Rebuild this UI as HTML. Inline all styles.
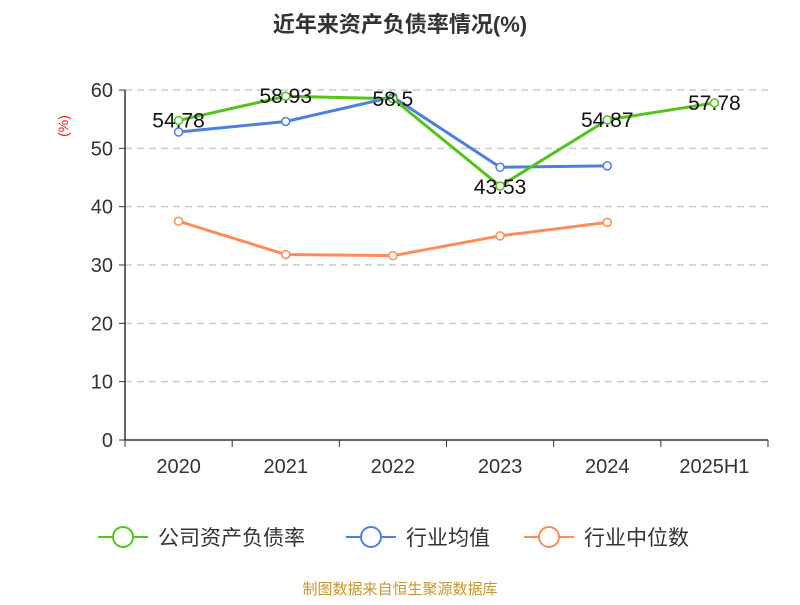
<!DOCTYPE html>
<html><head><meta charset="utf-8"><style>
body{margin:0;background:#fff;}
svg text{font-family:"Liberation Sans","Noto Sans CJK SC",sans-serif;}
</style></head><body>
<svg id="chart" width="800" height="600" xmlns="http://www.w3.org/2000/svg">
<text x="400" y="32" text-anchor="middle" font-size="22" font-weight="bold" fill="#333">近年来资产负债率情况(%)</text>
<text x="68" y="126" text-anchor="middle" font-size="14" fill="#e02020" transform="rotate(-90 68 126)">(%)</text>
<g id="grid"></g><g id="axes"></g><g id="series"></g>
<g>
<g><line x1="98" y1="537" x2="148" y2="537" stroke="#52c41a" stroke-width="2"/><circle cx="123" cy="537" r="10" fill="#fff" stroke="#52c41a" stroke-width="2"/><text x="158" y="545" font-size="21" fill="#333">公司资产负债率</text></g>
<g><line x1="346" y1="537" x2="396" y2="537" stroke="#4e7fe0" stroke-width="2"/><circle cx="371" cy="537" r="10" fill="#fff" stroke="#4e7fe0" stroke-width="2"/><text x="406" y="545" font-size="21" fill="#333">行业均值</text></g>
<g><line x1="524" y1="537" x2="574" y2="537" stroke="#ff8c55" stroke-width="2"/><circle cx="549" cy="537" r="10" fill="#fff" stroke="#ff8c55" stroke-width="2"/><text x="584" y="545" font-size="21" fill="#333">行业中位数</text></g>
</g>
<text x="400" y="594" text-anchor="middle" font-size="15" fill="#c8962e">制图数据来自恒生聚源数据库</text>
</svg>
<script>
const categories=["2020","2021","2022","2023","2024","2025H1"];
const companyValues=[54.78,58.93,58.5,43.53,54.87,57.78];
const avgValues=[52.8,54.6,58.8,46.75,47.0,null];
const medianValues=[37.5,31.8,31.6,35.0,37.3,null];
const yTicks=[0,10,20,30,40,50,60];
const NS="http://www.w3.org/2000/svg";
const x0=125,x1=768,yb=440,yt=90,yMax=60;
const bw=(x1-x0)/categories.length;
const xs=i=>x0+bw*(i+0.5);
const ys=v=>yb-(v/yMax)*(yb-yt);
function mk(tag,attrs,parent,txt){const e=document.createElementNS(NS,tag);for(const k in attrs)e.setAttribute(k,attrs[k]);if(txt!==undefined)e.textContent=txt;parent.appendChild(e);return e;}
const grid=document.getElementById('grid'),axes=document.getElementById('axes'),ser=document.getElementById('series');
yTicks.forEach(t=>{
 if(t>0){const g=mk('line',{x1:x0,x2:x1,y1:ys(t),y2:ys(t),stroke:'#ccc','stroke-width':1.5,'stroke-dasharray':'7,5'},grid);
 
 }
 const tk=mk('line',{x1:x0-6,x2:x0,y1:ys(t),y2:ys(t),stroke:'#333'},axes);
 
 
 const l=mk('text',{x:x0-12,y:ys(t)+7,'text-anchor':'end','font-size':20,fill:'#333'},axes,String(t));
 
 
});
const ya=mk('line',{x1:x0,x2:x0,y1:yt,y2:yb,stroke:'#333','stroke-width':1.5},axes);


const xa=mk('line',{x1:x0,x2:x1,y1:yb,y2:yb,stroke:'#333','stroke-width':1.5},axes);


for(let i=0;i<=categories.length;i++){const t=mk('line',{x1:x0+bw*i,x2:x0+bw*i,y1:yb,y2:yb+7,stroke:'#333'},axes);
 
 }
categories.forEach((c,i)=>{const l=mk('text',{x:xs(i),y:yb+33,'text-anchor':'middle','font-size':20,fill:'#333'},axes,c);
 
 });
function drawSeries(vals,color,name,labels){
 const pts=[];vals.forEach((v,i)=>{if(v!==null)pts.push([xs(i),ys(v),v]);});
 const p=mk('polyline',{points:pts.map(p=>p[0]+','+p[1]).join(' '),fill:'none',stroke:color,'stroke-width':3},ser);
 
 
 pts.forEach(q=>{const c=mk('circle',{cx:q[0],cy:q[1],r:4,fill:'#fff',stroke:color,'stroke-width':1.5},ser);
  
  });
 if(labels)pts.forEach(q=>{const t=mk('text',{x:q[0],y:q[1]+(q[2]<50?8:7),'text-anchor':'middle','font-size':21,fill:'#111'},ser,String(q[2]));
  
  });
}
drawSeries(medianValues,'#ff8c55','industry-median',false);
drawSeries(avgValues,'#4e7fe0','industry-avg',false);
drawSeries(companyValues,'#52c41a','company',true);
</script>
</body></html>
